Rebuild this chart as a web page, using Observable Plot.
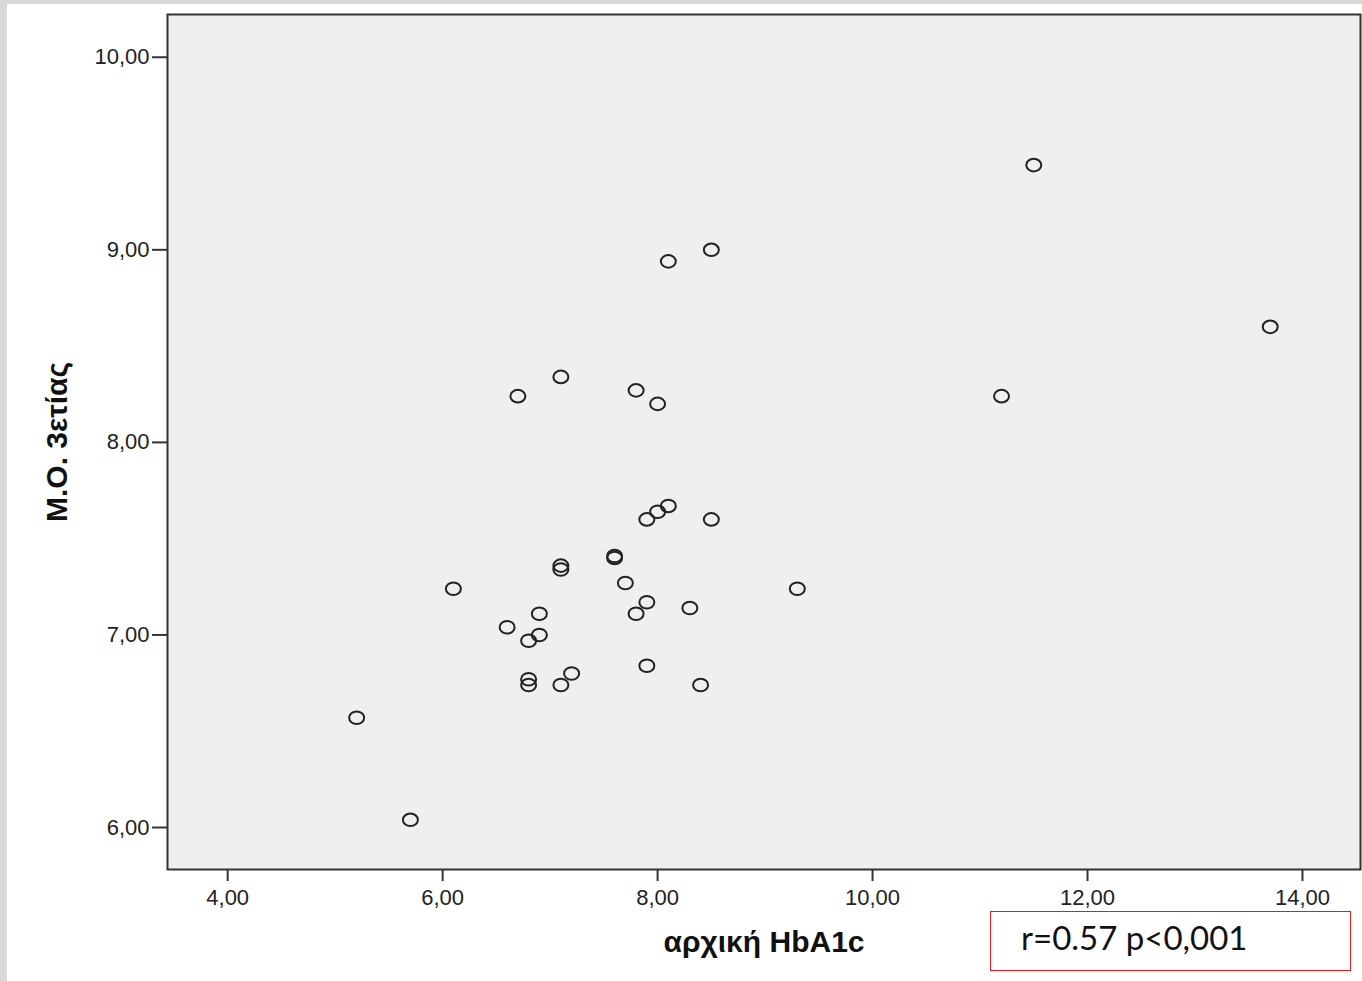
<!DOCTYPE html>
<html>
<head>
<meta charset="utf-8">
<script src="https://cdn.jsdelivr.net/npm/d3@7"></script>
<script src="https://cdn.jsdelivr.net/npm/@observablehq/plot@0.6"></script>
<style>
  html, body { margin: 0; padding: 0; background: #ffffff; }
  #wrap { position: relative; width: 1362px; height: 981px; overflow: hidden; }
  #chart { position: absolute; left: 0; top: 0; }
  .strip { position: absolute; background: #d9d9d9; }
  #note { position: absolute; left: 990px; top: 911px; width: 359px; height: 58px;
          border: 1.5px solid #e8191a; background: #fff; box-sizing: content-box;
          font-family: Lato, "Liberation Sans", sans-serif; font-size: 33px; color: #111;
          line-height: 50px; }
  #note span { position: absolute; left: 30px; top: 0; }
</style>
</head>
<body>
<div id="wrap">
  <div id="chart"></div>
  <div class="strip" style="left:0;top:0;width:7px;height:981px;"></div>
  <div class="strip" style="left:0;top:0;width:1362px;height:4px;"></div>
  <div id="note"><span>r=0.57 p&lt;0,001</span></div>
</div>
<script>
// x: αρχική HbA1c, y: Μ.Ο. 3ετίας
const hba1c = [11.5, 8.5, 8.1, 13.7, 7.1, 6.7, 7.8, 8.0, 11.2,
               8.1, 8.0, 7.9, 8.5, 7.6, 7.6, 7.1, 7.1, 7.7, 6.1, 9.3,
               7.9, 8.3, 6.9, 7.8, 6.6, 6.9, 6.8, 7.9, 7.2, 6.8, 6.8,
               7.1, 8.4, 5.2, 5.7];
const mo3   = [9.44, 9.00, 8.94, 8.60, 8.34, 8.24, 8.27, 8.20, 8.24,
               7.67, 7.64, 7.60, 7.60, 7.40, 7.41, 7.36, 7.34, 7.27, 7.24, 7.24,
               7.17, 7.14, 7.11, 7.11, 7.04, 7.00, 6.97, 6.84, 6.80, 6.77, 6.74,
               6.74, 6.74, 6.57, 6.04];
const xTicks = [4, 6, 8, 10, 12, 14];
const yTicks = [6, 7, 8, 9, 10];
const xTitle = "αρχική HbA1c";
const yTitle = "Μ.Ο. 3ετίας";

const points = hba1c.map((x, i) => ({x, y: mo3[i]}));
const fmt = d => d.toFixed(2).replace(".", ",");

// slightly flattened open circle, as in the SPSS output
const ellipse = {
  draw(ctx) {
    const rx = 7.5, ry = 6.3, k = 0.5523;
    ctx.moveTo(rx, 0);
    ctx.bezierCurveTo(rx, ry * k, rx * k, ry, 0, ry);
    ctx.bezierCurveTo(-rx * k, ry, -rx, ry * k, -rx, 0);
    ctx.bezierCurveTo(-rx, -ry * k, -rx * k, -ry, 0, -ry);
    ctx.bezierCurveTo(rx * k, -ry, rx, -ry * k, rx, 0);
    ctx.closePath();
  }
};

const chart = Plot.plot({
  width: 1362,
  height: 981,
  marginLeft: 167,
  marginRight: 2,
  marginTop: 14,
  marginBottom: 112,
  style: {fontFamily: "'Liberation Sans', Arial, sans-serif", background: "transparent", color: "#222"},
  x: {domain: [3.44, 14.54]},
  y: {domain: [5.782, 10.222]},
  marks: [
    Plot.frame({fill: "#efefef", stroke: "none"}),
    Plot.dot(points, {x: "x", y: "y", symbol: ellipse, stroke: "#222", strokeWidth: 2, fill: "none"}),
    Plot.frame({stroke: "#333", strokeWidth: 2}),
    Plot.axisX({ticks: xTicks, tickFormat: fmt, tickSize: 12, tickPadding: 8, fontSize: 22, label: null, stroke: "#333", strokeWidth: 2}),
    Plot.axisY({ticks: yTicks, tickFormat: fmt, tickSize: 15, tickPadding: 3, fontSize: 22, label: null, stroke: "#333", strokeWidth: 2}),
    Plot.text([xTitle], {text: d => d, frameAnchor: "bottom", dy: 82, fontSize: 30, fontWeight: "bold", fill: "#111"}),
    Plot.text([yTitle], {text: d => d, frameAnchor: "left", textAnchor: "middle", dx: -110, rotate: -90, fontSize: 30, fontWeight: "bold", fill: "#111"})
  ]
});
document.getElementById("chart").appendChild(chart);
</script>
</body>
</html>
